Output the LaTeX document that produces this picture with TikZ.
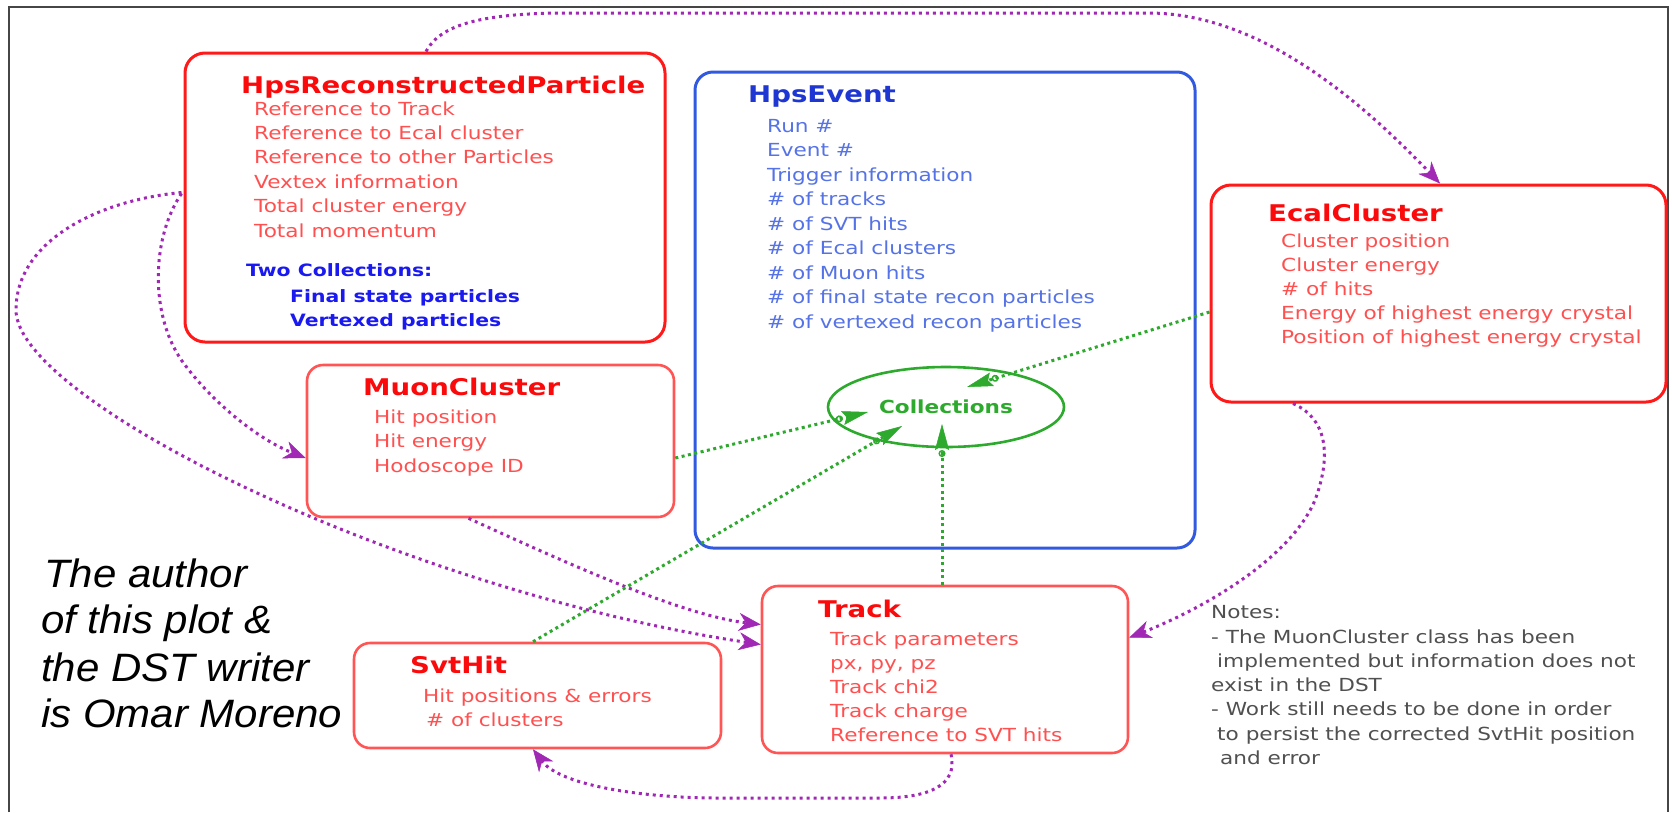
\documentclass[tikz,border=0pt]{standalone}
\usepackage{fontspec}
\setmainfont{DejaVu Sans}[FakeStretch=1.2]
\newfontfamily\authfont{Liberation Sans}[FakeStretch=1.06]
\usetikzlibrary{arrows.meta,shapes.geometric}
\definecolor{boxred}{RGB}{255,25,25}
\definecolor{ltred}{RGB}{255,85,85}
\definecolor{titred}{RGB}{250,10,10}
\definecolor{txtred}{RGB}{255,80,80}
\definecolor{evblue}{RGB}{50,90,225}
\definecolor{evtitle}{RGB}{30,55,210}
\definecolor{evtext}{RGB}{85,115,230}
\definecolor{colblue}{RGB}{25,25,240}
\definecolor{grn}{RGB}{45,170,45}
\definecolor{purp}{RGB}{160,40,180}
\definecolor{notegray}{RGB}{80,80,80}
\definecolor{framegray}{RGB}{70,70,70}
\tikzset{
  redbox/.style={draw=boxred, line width=3pt, rounded corners=20pt, inner sep=0pt},
  ltbox/.style={draw=ltred, line width=2.6pt, rounded corners=16pt, inner sep=0pt},
  bluebox/.style={draw=evblue, line width=3pt, rounded corners=18pt, inner sep=0pt},
  collell/.style={ellipse, draw=grn, line width=2.6pt, inner sep=0pt, text=grn,
    font=\bfseries\fontsize{18}{20}\selectfont},
  ttl/.style={anchor=base west, inner sep=0pt, font=\bfseries\fontsize{23}{26}\selectfont},
  bodytxt/.style={anchor=base west, inner sep=0pt, font=\fontsize{18}{22}\selectfont},
  boldtxt/.style={anchor=base west, inner sep=0pt, font=\bfseries\fontsize{17}{21}\selectfont, text=colblue},
  notetxt/.style={anchor=base west, inner sep=0pt, font=\fontsize{18}{22}\selectfont, text=notegray},
  authtxt/.style={anchor=base west, inner sep=0pt, font=\authfont\itshape\fontsize{39.6}{47}\selectfont},
  purpline/.style={draw=purp, line width=3pt, dash pattern=on 3pt off 4pt,
    -{Stealth[length=22pt,width=18pt,inset=7pt,line width=0.5pt]}},
  greenline/.style={draw=grn, line width=3pt, dash pattern=on 3pt off 3.5pt,
    -{Circle[open,length=7pt,width=7pt,line width=1.5pt] Stealth[length=26pt,width=14pt,inset=4pt,line width=0.5pt]}},
  frameline/.style={draw=framegray, line width=2.5pt}
}
\begin{document}
\begin{tikzpicture}[x=1pt,y=-1pt]
\useasboundingbox (0,0) rectangle (1672,812);
\fill[white] (0,0) rectangle (1672,812);
\draw[frameline] (9,812) -- (9,7) -- (1668,7) -- (1668,812);

% boxes
\node[redbox, minimum width=480, minimum height=289] (hrp) at (425,197.5) {};
\node[bluebox, minimum width=500, minimum height=476] (ev) at (945,310) {};
\node[redbox, minimum width=455, minimum height=217] (ecal) at (1438.5,293.5) {};
\node[ltbox, minimum width=367, minimum height=152] (muon) at (490.5,441) {};
\node[ltbox, minimum width=367, minimum height=105] (svt) at (537.5,695.5) {};
\node[ltbox, minimum width=366, minimum height=167] (track) at (945,669.5) {};
\node[collell, minimum width=236, minimum height=80] (coll) at (946,407) {Collections};

% HpsReconstructedParticle
\node[ttl, text=titred] (hrpT) at (241,93) {HpsReconstructedParticle};
\foreach \t [count=\i from 0] in {Reference to Track, Reference to Ecal cluster, Reference to other Particles, Vextex information, Total cluster energy, Total momentum}
  \node[bodytxt, text=txtred] (hrpL\i) at (254, 115+24.4*\i) {\t};
\node[boldtxt] (hrpC) at (246,276) {Two Collections:};
\node[boldtxt] (hrpF) at (290,302) {Final state particles};
\node[boldtxt] (hrpV) at (290,326) {Vertexed particles};

% HpsEvent
\node[ttl, text=evtitle] (evT) at (748,102) {HpsEvent};
\foreach \t [count=\i from 0] in {Run \#, Event \#, Trigger information, \# of tracks, \# of SVT hits, \# of Ecal clusters, \# of Muon hits, \# of final state recon particles, \# of vertexed recon particles}
  \node[bodytxt, text=evtext] (evL\i) at (767, 132+24.5*\i) {\t};

% EcalCluster
\node[ttl, text=titred] (ecalT) at (1268,221) {EcalCluster};
\foreach \t [count=\i from 0] in {Cluster position, Cluster energy, \# of hits, Energy of highest energy crystal, Position of highest energy crystal}
  \node[bodytxt, text=txtred] (ecalL\i) at (1281, 247+24*\i) {\t};

% MuonCluster
\node[ttl, text=titred] (muonT) at (363,395) {MuonCluster};
\foreach \t [count=\i from 0] in {Hit position, Hit energy, Hodoscope ID}
  \node[bodytxt, text=txtred] (muonL\i) at (374, 423+24.5*\i) {\t};

% SvtHit
\node[ttl, text=titred] (svtT) at (410,673) {SvtHit};
\node[bodytxt, text=txtred] (svtL0) at (423,702) {Hit positions \& errors};
\node[bodytxt, text=txtred] (svtL1) at (426,726) {\# of clusters};

% Track
\node[ttl, text=titred] (trackT) at (818,617) {Track};
\foreach \t [count=\i from 0] in {Track parameters, {px, py, pz}, Track chi2, Track charge, Reference to SVT hits}
  \node[bodytxt, text=txtred] (trackL\i) at (830, 645+24.2*\i) {\t};

% Notes
\node[notetxt] (n0) at (1211,618) {Notes:};
\node[notetxt] (n1) at (1211,643) {- The MuonCluster class has been};
\node[notetxt] (n2) at (1217,667) {implemented but information does not};
\node[notetxt] (n3) at (1211,691) {exist in the DST};
\node[notetxt] (n4) at (1211,715) {- Work still needs to be done in order};
\node[notetxt] (n5) at (1217,740) {to persist the corrected SvtHit position};
\node[notetxt] (n6) at (1220,764) {and error};

% author
\node[authtxt] (a0) at (44,587) {The author};
\node[authtxt] (a1) at (41,633) {of this plot \&};
\node[authtxt] (a2) at (41,681) {the DST writer};
\node[authtxt] (a3) at (41,727) {is Omar Moreno};

% purple connectors
\draw[purpline] ([shift={(1,0)}]hrp.north) .. controls (440,25) and (480,14) .. (560,13) -- (1150,13) .. controls (1260,14) and (1360,100) .. ([shift={(1.5,0)}]ecal.north);
\draw[purpline] ([shift={(-2,-5)}]hrp.west) .. controls (100,200) and (16,240) .. (16,310) .. controls (16,400) and (400,590) .. ([shift={(0,-25)}]track.west);
\draw[purpline] ([shift={(-2,-4)}]hrp.west) .. controls (150,240) and (150,320) .. (185,365) .. controls (215,405) and (260,440) .. ([shift={(0,17)}]muon.west);
\draw[purpline] ([shift={(-22,0)}]muon.south) .. controls (560,560) and (680,615) .. ([shift={(0,-45)}]track.west);
\draw[purpline] ([shift={(-145.5,0)}]ecal.south) .. controls (1330,420) and (1330,460) .. (1315,500) .. controls (1290,560) and (1200,610) .. ([shift={(0,-32)}]track.east);
\draw[purpline] ([shift={(6,0)}]track.south) .. controls (958,785) and (930,798) .. (880,798) -- (720,798) .. controls (640,798) and (560,785) .. ([shift={(-4.5,0)}]svt.south);

% green connectors
\draw[greenline] ([shift={(0,18.5)}]ecal.west) -- ([shift={(21,-20)}]coll.center);
\draw[greenline] ([shift={(0,17)}]muon.east) -- ([shift={(-78,5)}]coll.center);
\draw[greenline] ([shift={(-4.5,0)}]svt.north) -- ([shift={(-44,19)}]coll.center);
\draw[greenline] ([shift={(-3,0)}]track.north) -- ([shift={(-4,17)}]coll.center);
\end{tikzpicture}
\end{document}
